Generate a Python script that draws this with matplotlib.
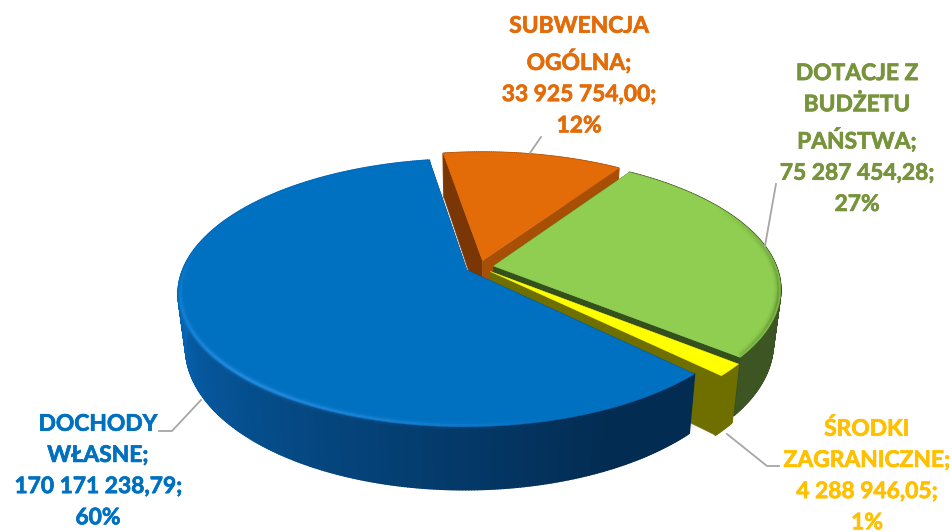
"""
Exploded 3D-looking pie, projected by hand since matplotlib has no such pie.
Slices run clockwise from the top in the order below.
"""

import matplotlib
matplotlib.use("Agg")
import matplotlib.pyplot as plt
import matplotlib.patheffects as pe
import numpy as np
from matplotlib.collections import LineCollection, PolyCollection
from matplotlib.colors import to_rgb

names = ["SUBWENCJA\nOGÓLNA", "DOTACJE Z\nBUDŻETU\nPAŃSTWA", "ŚRODKI\nZAGRANICZNE", "DOCHODY\nWŁASNE"]
values = [33925754.00, 75287454.28, 4288946.05, 170171238.79]
value_labels = ["33 925 754,00", "75 287 454,28", "4 288 946,05", "170 171 238,79"]
pct_labels = ["12%", "27%", "1%", "60%"]

top_colors = ["#e36c09", "#8fce50", "#ffff00", "#0070c0"]
text_colors = ["#e36c09", "#77933c", "#ffc000", "#0070c0"]
# outer wall colour: lit end (left), dark end (right)
wall_light = ["#a84f06", "#435f26", "#6f6f00", "#0767b8"]
wall_dark = ["#a84f06", "#3c5522", "#6f6f00", "#032c52"]
start_face = ["#7a3605", "#3c5522", "#6f6f00", "#032c52"]
end_face = ["#a84f06", "#34501c", "#6f6f00", "#032c52"]
# soft rim along the front edge: colour, angle of peak, half width (deg), strength
rims = [None, ("#3f5f22", 105, 45, 0.55), None, ("#3d9df0", 222, 62, 0.9)]

label_pos = [(579, 76), (857, 139), (867, 476), (98, 471)]
leaders = [
    [(530, 153), (541, 137)],
    [(765, 246), (776, 184)],
    [(727, 434), (767, 466), (779, 466)],
    [(201, 400), (172, 431), (159, 431)],
]

START_DEG = -9.3
CX, CY = 479.5, 267.0
RX, RY = 283.0, 129.0
PERSP = 0.17
DEPTH = 52.0
EXPLODE = 0.05
BASE_SHRINK = 0.025


def project(theta, r, bis, z=0.0):
    """theta/bis in radians clockwise from north, r in pie radii."""
    x = r * np.sin(theta) + EXPLODE * np.sin(bis)
    y = r * np.cos(theta) + EXPLODE * np.cos(bis)
    w = 1 + PERSP * y
    return CX + RX * x / w * (1 - BASE_SHRINK * z), CY - RY * y / w + z * DEPTH / w


def arc(t0, t1, bis, r=1.0, z=0.0, n=120):
    t = np.linspace(t0, t1, n)
    return np.column_stack(project(t, r * np.ones_like(t), bis, z))


def mix(c0, c1, f):
    return tuple((1 - f) * a + f * b for a, b in zip(to_rgb(c0), to_rgb(c1)))


fig = plt.figure(figsize=(9.53, 5.32), dpi=100)
ax = fig.add_axes([0, 0, 1, 1])
ax.set_xlim(0, 953)
ax.set_ylim(532, 0)
ax.axis("off")

# soft shadow under the base
circle = np.linspace(0, 2 * np.pi, 300)
for grow, a in zip([0.035, 0.028, 0.021, 0.014, 0.007], [0.03, 0.04, 0.05, 0.05, 0.06]):
    pts = np.column_stack(project(circle, np.full(300, 1.0 + grow), 0.0, 1.08))
    pts[:, 1] -= EXPLODE * RY
    pts[:, 0] -= 2
    ax.fill(pts[:, 0], pts[:, 1], color="#808080", alpha=a, lw=0, zorder=1)

fractions = np.array(values) / np.sum(values)
edges = np.radians(START_DEG + 360 * np.concatenate([[0], np.cumsum(fractions)]))

z = 2
for i in range(len(values)):
    t0, t1 = edges[i], edges[i + 1]
    bis = (t0 + t1) / 2
    apex = np.array(project(0.0, 0.0, bis))
    apex_low = np.array(project(0.0, 0.0, bis, 1.0))

    # outer wall in small strips so it can darken towards the right
    n = max(int(np.degrees(t1 - t0) * 2), 4)
    tt = np.linspace(t0, t1, n + 1)
    up = np.column_stack(project(tt, np.ones(n + 1), bis))
    lo = np.column_stack(project(tt, np.ones(n + 1), bis, 1.0))
    quads, cols = [], []
    for k in range(n):
        quads.append([up[k], up[k + 1], lo[k + 1], lo[k]])
        mid = np.degrees((tt[k] + tt[k + 1]) / 2) % 360
        f = np.clip((270 - mid) / 115, 0, 1)
        cols.append(mix(wall_light[i], wall_dark[i], f))
    ax.add_collection(PolyCollection(quads, facecolors=cols, edgecolors=cols, lw=1.2, zorder=z))
    z += 1

    # radial cut faces
    for t, col in ((t0, start_face[i]), (t1, end_face[i])):
        a = np.array(project(t, 1.0, bis))
        b = np.array(project(t, 1.0, bis, 1.0))
        ax.fill(*np.array([apex, a, b, apex_low]).T, color=col, lw=0.3, zorder=z)
    z += 1

    # top face
    outline = np.vstack([apex, arc(t0, t1, bis)])
    ax.fill(outline[:, 0], outline[:, 1], color=top_colors[i], lw=0.3, zorder=z)
    z += 1

    # bevel on the top face, fading out with angle
    if rims[i] is not None:
        col, peak, half, strength = rims[i]
        tt = np.linspace(t0 + 0.01, t1 - 0.01, 200)
        pts = np.column_stack(project(tt, np.full(200, 0.992), bis))
        segs = np.stack([pts[:-1], pts[1:]], axis=1)
        mid = np.degrees((tt[:-1] + tt[1:]) / 2) % 360
        fade = np.clip(1 - np.abs(mid - peak) / half, 0, 1)
        rgb = to_rgb(col)
        for lw, a in [(6, 0.12), (3.5, 0.22), (1.6, 0.5)]:
            rgba = [(*rgb, a * strength * ff) for ff in fade]
            ax.add_collection(LineCollection(segs, colors=rgba, linewidths=lw,
                                             capstyle="butt", zorder=z))
        z += 1

for pts in leaders:
    xs, ys = zip(*pts)
    ax.plot(xs, ys, color="#a6a6a6", lw=1.3, zorder=z)

for i in range(len(values)):
    txt = ax.text(label_pos[i][0], label_pos[i][1],
                  f"{names[i]};\n{value_labels[i]};\n{pct_labels[i]}",
                  color=text_colors[i], family="Lato", weight="bold", fontsize=16.4,
                  ha="center", va="center", linespacing=1.6, zorder=z + 1)
    txt.set_path_effects([pe.withStroke(linewidth=0.5, foreground=text_colors[i])])

fig.savefig("out.png", dpi=100)
